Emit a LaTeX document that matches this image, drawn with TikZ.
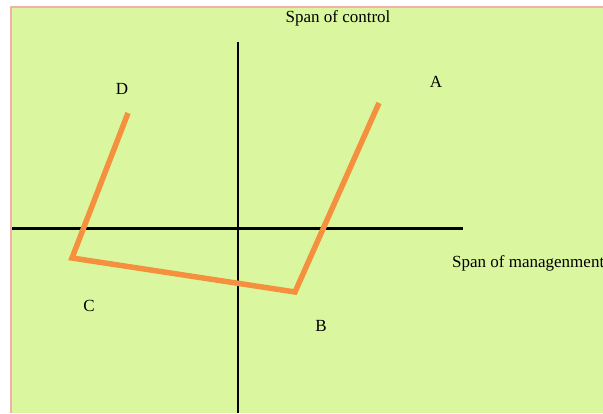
\documentclass[tikz,border=0pt]{standalone}
\usepackage{fontspec}
\setmainfont{Liberation Serif}
\definecolor{bggreen}{RGB}{218,247,160}
\definecolor{edgepink}{RGB}{242,176,168}
\definecolor{lineorange}{RGB}{245,145,62}
\begin{document}
\begin{tikzpicture}[
  x=1pt, y=-1pt,
  line cap=round,
  line join=round,
  lbl/.style={font=\fontsize{17}{19}\selectfont, inner sep=0pt}
]
  % Рамка
  \useasboundingbox (0,0) rectangle (603,413);
  \fill[white] (0,0) rectangle (603,413);
  \fill[bggreen] (11,7) rectangle (603,413);
  \draw[edgepink, line width=2pt, line cap=butt] (11,413) -- (11,7) -- (603,7);

  % Оси
  \coordinate (L) at (12,228.5);
  \coordinate (R) at (463,228.5);
  \coordinate (T) at (238,42);
  \coordinate (Bt) at (238,413);
  \draw[line width=3pt, line cap=butt] (L)--(R);
  \draw[line width=2.4pt, line cap=butt] (T)--(Bt);

  % Точки ломаной
  \coordinate (D) at (128,113);
  \coordinate (C) at (72,258);
  \coordinate (B) at (295,292);
  \coordinate (A) at (379,103);

  % Ломаная
  \draw[lineorange, line width=5.5pt, line cap=butt, line join=miter] (D)--(C)--(B)--(A);

  % Подписи
  \node[lbl] (ctrl) at (338,18) {Span of control};
  \node[lbl, anchor=west] (mgmt) at (452,263) {Span of managenment};
  \node[lbl] (a) at (436,82) {A};
  \node[lbl] (d) at (122,89) {D};
  \node[lbl] (c) at (89,306) {C};
  \node[lbl] (b) at (321,326) {B};
\end{tikzpicture}
\end{document}
